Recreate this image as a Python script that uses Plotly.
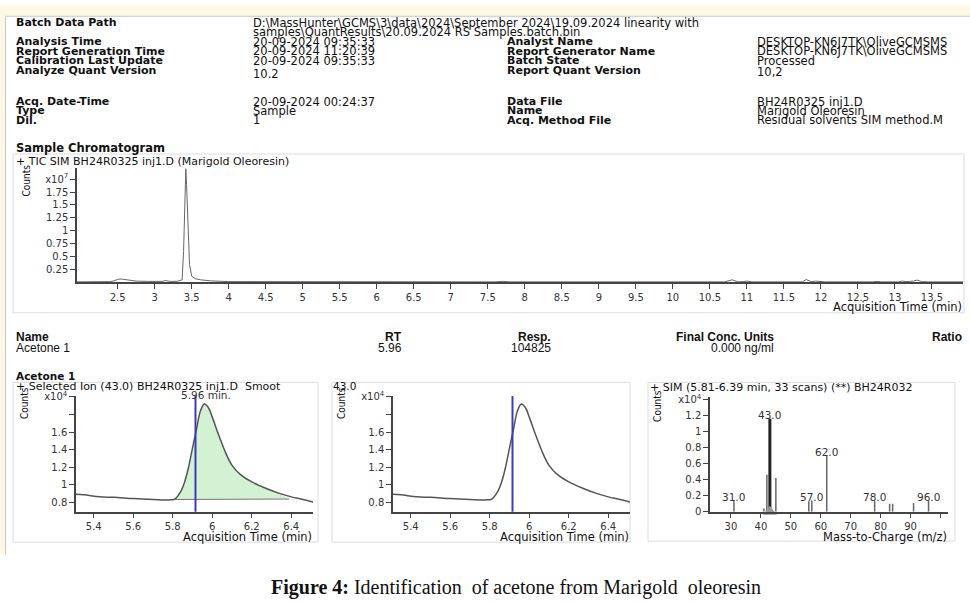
import plotly.graph_objects as go

W, H = 970, 604

# ---------------- data ----------------
# TIC (x1e7 counts)
tic_time = [1.95, 2.2, 2.4, 2.45, 2.5, 2.55, 2.6, 2.65, 2.75, 2.9, 3.1, 3.15, 3.2, 3.3, 3.37, 3.39,
            3.41, 3.42, 3.43, 3.45, 3.47, 3.5, 3.55, 3.62, 3.75, 4.0, 5.0, 6.0, 7.6, 7.7, 7.8, 9.0,
            10.7, 10.8, 10.88, 10.95, 11.0, 11.07, 11.5, 11.75, 11.8, 11.87, 11.93, 11.98, 12.05,
            12.7, 12.76, 12.82, 13.05, 13.1, 13.15, 13.2, 13.25, 13.3, 13.36, 13.45, 13.92]
tic_counts = [0.01, 0.01, 0.015, 0.03, 0.06, 0.065, 0.055, 0.04, 0.025, 0.02, 0.02, 0.035, 0.02, 0.02,
              0.05, 0.6, 1.9, 2.2, 1.9, 1.0, 0.35, 0.12, 0.07, 0.05, 0.03, 0.015, 0.01, 0.01, 0.01,
              0.02, 0.01, 0.01, 0.01, 0.05, 0.01, 0.015, 0.025, 0.01, 0.01, 0.01, 0.055, 0.015,
              0.025, 0.02, 0.01, 0.01, 0.02, 0.01, 0.01, 0.025, 0.015, 0.02, 0.025, 0.045, 0.015,
              0.01, 0.01]
tic_xticks = [2.5, 3, 3.5, 4, 4.5, 5, 5.5, 6, 6.5, 7, 7.5, 8, 8.5, 9, 9.5, 10, 10.5, 11, 11.5,
              12, 12.5, 13, 13.5]
tic_yticks = [0.25, 0.5, 0.75, 1, 1.25, 1.5, 1.75, 2.0]
tic_ytext = ["0.25", "0.5", "0.75", "1", "1.25", "1.5", "1.75", "x10<sup>7</sup>"]

# Extracted ion 43.0 (x1e4 counts)
eic_time = [5.31, 5.35, 5.43, 5.5, 5.6, 5.7, 5.78, 5.81, 5.84, 5.86, 5.88, 5.9, 5.92, 5.94, 5.96,
            5.98, 6.0, 6.03, 6.07, 6.1, 6.14, 6.2, 6.28, 6.34, 6.4, 6.46, 6.51]
eic_counts = [0.89, 0.885, 0.86, 0.855, 0.84, 0.83, 0.825, 0.835, 0.92, 1.03, 1.2, 1.42, 1.63, 1.84,
              1.92, 1.88, 1.77, 1.58, 1.35, 1.22, 1.12, 1.03, 0.95, 0.9, 0.86, 0.83, 0.80]
integ_window = [5.81, 6.39]
integ_base = [0.83, 0.835]
rt_marker = 5.915
rt_label = "5.96 min."
eic_xticks = [5.4, 5.6, 5.8, 6.0, 6.2, 6.4]
eic_xtext = ["5.4", "5.6", "5.8", "6", "6.2", "6.4"]
eic_yticks = [0.8, 1.0, 1.2, 1.4, 1.6, 1.8, 2.0]
eic_ytext = ["0.8", "1", "1.2", "1.4", "1.6", "", "x10<sup>4</sup>"]

# Spectrum (x1e4 counts)
ms_mz = [31, 41, 42, 45, 56, 57, 62, 78, 83, 84, 91, 96]
ms_int = [0.14, 0.04, 0.46, 0.42, 0.13, 0.14, 0.70, 0.14, 0.10, 0.10, 0.11, 0.14]
ms_base_mz = 43
ms_base_int = 1.16
ms_label_mz = [31, 43, 57, 62, 78, 96]
ms_xticks = [30, 40, 50, 60, 70, 80, 90, 100]
ms_xtext = ["30", "40", "50", "60", "70", "80", "90", ""]
ms_yticks = [0, 0.2, 0.4, 0.6, 0.8, 1.0, 1.2, 1.4]
ms_ytext = ["0", "0.2", "0.4", "0.6", "0.8", "1", "1.2", "x10<sup>4</sup>"]

# Report header text
hdr_left = [("Batch Data Path", 17), ("Analysis Time", 36.5), ("Report Generation Time", 46),
            ("Calibration Last Update", 56), ("Analyze Quant Version", 66),
            ("Acq. Date-Time", 97.5), ("Type", 107), ("Dil.", 116.5)]
hdr_left_vals = [("D:\\MassHunter\\GCMS\\3\\data\\2024\\September 2024\\19.09.2024 linearity with", 17),
                 ("samples\\QuantResults\\20.09.2024 RS Samples.batch.bin", 26.5),
                 ("20-09-2024 09:35:33", 36.5), ("20-09-2024 11:20:39", 46),
                 ("20-09-2024 09:35:33", 56), ("10.2", 69),
                 ("20-09-2024 00:24:37", 97.5), ("Sample", 107), ("1", 116.5)]
hdr_right = [("Analyst Name", 36.5), ("Report Generator Name", 46), ("Batch State", 56),
             ("Report Quant Version", 66), ("Data File", 97.5), ("Name", 107), ("Acq. Method File", 116.5)]
hdr_right_vals = [("DESKTOP-KN6J7TK\\OliveGCMSMS", 36.5), ("DESKTOP-KN6J7TK\\OliveGCMSMS", 46),
                  ("Processed", 56), ("10,2", 67), ("BH24R0325 inj1.D", 97.5),
                  ("Marigold Oleoresin", 107), ("Residual solvents SIM method.M", 116.5)]

tbl_head = ["Name", "RT", "Resp.", "Final Conc. Units", "Ratio"]
tbl_row = ["Acetone 1", "5.96", "104825", "0.000 ng/ml", ""]

# ---------------- helpers ----------------
def px(x):
    return x / W

def py(y):
    return 1 - y / H

FONT = "DejaVu Sans"
NARROW = "Liberation Sans Narrow, DejaVu Sans Condensed, Liberation Sans"
TABLE = "Liberation Sans, DejaVu Sans"
annotations = []

def ann(text, x, y, size=11, bold=False, xanchor="left", color="#111", family=FONT, **kw):
    if bold:
        text = "<b>" + text + "</b>"
    d = dict(text=text, x=px(x), y=py(y), xref="paper", yref="paper", xanchor=xanchor,
             yanchor="middle", showarrow=False, borderpad=0,
             font=dict(family=family, size=size, color=color))
    d.update(kw)
    annotations.append(d)

fig = go.Figure()

# ---------------- traces ----------------
fig.add_trace(go.Scatter(x=tic_time, y=tic_counts, mode="lines", line=dict(color="#666", width=1),
                         xaxis="x", yaxis="y", hoverinfo="skip"))

fx = [integ_window[0]] + [t for t in eic_time if integ_window[0] < t < integ_window[1]] + [integ_window[1]]
fy = [integ_base[0]] + [c for t, c in zip(eic_time, eic_counts) if integ_window[0] < t < integ_window[1]] + [integ_base[1]]
fig.add_trace(go.Scatter(x=fx, y=fy, mode="lines", fill="toself", fillcolor="#d3f2d3",
                         line=dict(color="rgba(0,0,0,0)", width=0, shape="spline"), xaxis="x2", yaxis="y2",
                         hoverinfo="skip"))
fig.add_trace(go.Scatter(x=integ_window, y=integ_base, mode="lines", line=dict(color="#777", width=1),
                         xaxis="x2", yaxis="y2", hoverinfo="skip"))
for xa, ya in (("x2", "y2"), ("x3", "y3")):
    fig.add_trace(go.Scatter(x=eic_time, y=eic_counts, mode="lines",
                             line=dict(color="#555", width=1.5, shape="spline"),
                             xaxis=xa, yaxis=ya, hoverinfo="skip"))

sx, sy = [], []
for m, h in zip(ms_mz, ms_int):
    sx += [m, m, None]
    sy += [0, h, None]
fig.add_trace(go.Scatter(x=sx, y=sy, mode="lines", line=dict(color="#666", width=1.5),
                         xaxis="x4", yaxis="y4", hoverinfo="skip"))
fig.add_trace(go.Scatter(x=[ms_base_mz, ms_base_mz], y=[0, ms_base_int], mode="lines",
                         line=dict(color="#222", width=3), xaxis="x4", yaxis="y4", hoverinfo="skip"))
fig.add_trace(go.Scatter(x=[ms_base_mz], y=[0], mode="markers", cliponaxis=False,
                         marker=dict(symbol="triangle-up", size=12, color="#999"),
                         xaxis="x4", yaxis="y4", hoverinfo="skip"))

all_mz = ms_mz + [ms_base_mz]
all_int = ms_int + [ms_base_int]
for m in ms_label_mz:
    h = all_int[all_mz.index(m)]
    annotations.append(dict(text=f"{m:.1f}", x=m, y=h, xref="x4", yref="y4", xanchor="center",
                            yanchor="middle", yshift=4, showarrow=False, borderpad=0,
                            font=dict(family=FONT, size=10.5, color="#333")))

tickfont = dict(family=FONT, size=10, color="#333")
axis_common = dict(showline=True, linecolor="#444", linewidth=1.5, ticks="outside", ticklen=5,
                   tickcolor="#444", tickwidth=1.2, showgrid=False, zeroline=False,
                   tickfont=tickfont, fixedrange=True, tickmode="array")

layout = dict(width=W, height=H, margin=dict(l=0, r=0, t=0, b=0), paper_bgcolor="white",
              plot_bgcolor="white", showlegend=False)
layout["xaxis"] = dict(axis_common, domain=[px(77), px(963)], range=[1.95, 13.92],
                       tickvals=tic_xticks, anchor="y")
layout["yaxis"] = dict(axis_common, domain=[py(282), py(165)], range=[0, 2.22],
                       tickvals=tic_yticks, ticktext=tic_ytext, anchor="x")
layout["xaxis2"] = dict(axis_common, domain=[px(76), px(313)], range=[5.31, 6.51],
                        tickvals=eic_xticks, ticktext=eic_xtext, anchor="y2")
layout["yaxis2"] = dict(axis_common, domain=[py(516), py(398)], range=[0.69, 2.01],
                        tickvals=eic_yticks, ticktext=eic_ytext, anchor="x2")
layout["xaxis3"] = dict(axis_common, domain=[px(393), px(630)], range=[5.31, 6.51],
                        tickvals=eic_xticks, ticktext=eic_xtext, anchor="y3")
layout["yaxis3"] = dict(axis_common, domain=[py(516), py(398)], range=[0.69, 2.01],
                        tickvals=eic_yticks, ticktext=eic_ytext, anchor="x3")
layout["xaxis4"] = dict(axis_common, domain=[px(710), px(948)], range=[23, 102.5],
                        tickvals=ms_xticks, ticktext=ms_xtext, anchor="y4")
layout["yaxis4"] = dict(axis_common, domain=[py(516), py(399)], range=[0, 1.43],
                        tickvals=ms_yticks, ticktext=ms_ytext, anchor="x4")

cream = "#fcf8e4"
shapes = [
    dict(type="rect", xref="paper", yref="paper", x0=0, x1=1, y0=py(10), y1=1,
         fillcolor=cream, line=dict(width=0), layer="below"),
    dict(type="rect", xref="paper", yref="paper", x0=0, x1=px(5), y0=py(560), y1=py(10),
         fillcolor=cream, line=dict(width=0), layer="below"),
    dict(type="line", xref="paper", yref="paper", x0=px(5), x1=1, y0=py(10.5), y1=py(10.5),
         line=dict(color="#c8c8c8", width=1)),
    dict(type="line", xref="paper", yref="paper", x0=px(5.5), x1=px(5.5), y0=py(560), y1=py(10.5),
         line=dict(color="#c8c8c8", width=1)),
]
for (x0, y0, x1, y1) in [(13, 151, 964, 313), (13, 384, 318, 547), (332, 384, 630, 547), (648, 384, 955, 546)]:
    shapes.append(dict(type="rect", xref="paper", yref="paper", x0=px(x0), x1=px(x1), y0=py(y1), y1=py(y0),
                       line=dict(color="#dcdcdc", width=1), fillcolor="rgba(0,0,0,0)", layer="below"))
for xr, yr in (("x2", "y2 domain"), ("x3", "y3 domain")):
    shapes.append(dict(type="line", xref=xr, yref=yr, x0=rt_marker, x1=rt_marker, y0=0, y1=1,
                       line=dict(color="#3b3bbf", width=2)))
layout["shapes"] = shapes

# ---------------- text ----------------
HS = 11
for t, y in hdr_left:
    ann(t, 15, y, size=HS, bold=True)
for t, y in hdr_left_vals:
    ann(t, 252, y, size=HS + 0.5)
for t, y in hdr_right:
    ann(t, 506, y, size=HS, bold=True)
for t, y in hdr_right_vals:
    ann(t, 756, y, size=HS + 0.5)

ann("Sample Chromatogram", 15, 145, size=11.5, bold=True)
ann("+ TIC SIM BH24R0325 inj1.D (Marigold Oleoresin)", 15, 158.5, size=11)
ann("Counts", 26, 178, size=10, textangle=-90, xanchor="center", family=NARROW)
ann("Acquisition Time (min)", 963, 307, size=11.5, xanchor="right")

tbl_x = [(15, "left"), (403, "right"), (552, "right"), (775, "right"), (963, "right")]
for (x, a), h, v in zip(tbl_x, tbl_head, tbl_row):
    ann(h, x, 338, size=12, bold=True, xanchor=a, family=TABLE)
    if v:
        ann(v, x, 349, size=12, xanchor=a, family=TABLE)

ann("Acetone 1", 15, 377, size=10.5, bold=True)
ann("+ Selected Ion (43.0) BH24R0325 inj1.D  Smoot", 15, 388, size=11)
ann("43.0", 332, 388, size=10.5)
ann("+ SIM (5.81-6.39 min, 33 scans) (**) BH24R032", 649, 389, size=11)
for cx, cy in ((25, 405), (342, 405), (658, 408)):
    ann("Counts", cx, cy, size=10, textangle=-90, xanchor="center", family=NARROW)
annotations.append(dict(text=rt_label, x=5.97, y=py(397), xref="x2", yref="paper", xanchor="center",
                        yanchor="middle", showarrow=False, borderpad=0,
                        font=dict(family=FONT, size=10.5, color="#333")))
ann("Acquisition Time (min)", 313, 542, size=11.5, xanchor="right")
ann("Acquisition Time (min)", 630, 542, size=11.5, xanchor="right")
ann("Mass-to-Charge (m/z)", 948, 542, size=11.5, xanchor="right")

ann("<b>Figure 4:</b> Identification\u00a0 of acetone from Marigold\u00a0 oleoresin", 516, 593,
    size=20, xanchor="center", family="Liberation Serif", color="#111")

layout["annotations"] = annotations
fig.update_layout(**layout)
fig.write_html("out.html", config={"responsive": False, "displayModeBar": False},
               post_script="document.body.style.margin='0';document.body.style.overflow='hidden';")
